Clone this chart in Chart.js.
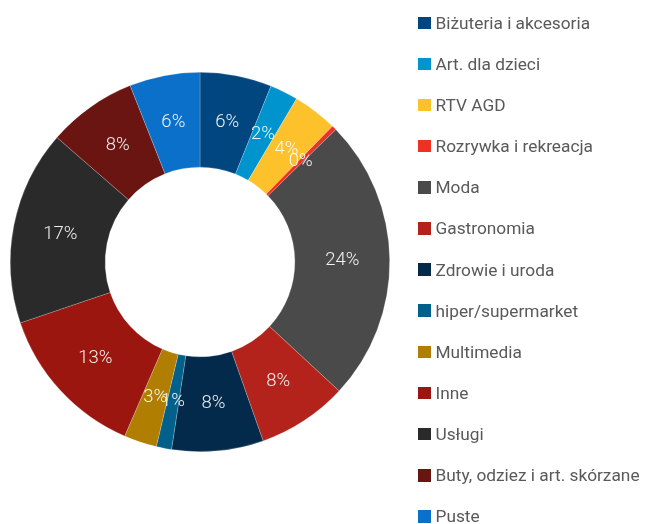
<!DOCTYPE html>
<html>
<head>
<meta charset="utf-8">
<script src="https://cdn.jsdelivr.net/npm/chart.js@4/dist/chart.umd.min.js"></script>
<style>
  html, body { margin: 0; padding: 0; background: #ffffff; }
  #wrap { position: relative; width: 646px; height: 524px; overflow: hidden; }
  #c { position: absolute; left: 0; top: 0; }
  #legend { position: absolute; left: 418px; top: 2.2px; margin: 0; padding: 0; list-style: none; }
  #legend li { display: flex; align-items: center; height: 41.15px; font-family: Roboto, "Open Sans", sans-serif; font-size: 17.3px; color: #595959; white-space: nowrap; }
  #legend span.box { display: inline-block; width: 12.5px; height: 12.5px; margin-right: 5px; flex: none; }
</style>
</head>
<body>
<div id="wrap">
  <canvas id="c" width="646" height="524"></canvas>
  <ul id="legend"></ul>
</div>
<script>
const categories = [
  "Biżuteria i akcesoria",
  "Art. dla dzieci",
  "RTV AGD",
  "Rozrywka i rekreacja",
  "Moda",
  "Gastronomia",
  "Zdrowie i uroda",
  "hiper/supermarket",
  "Multimedia",
  "Inne",
  "Usługi",
  "Buty, odziez i art. skórzane",
  "Puste"
];
const shares = [6.1, 2.4, 3.8, 0.4, 24.2, 7.7, 7.8, 1.3, 2.8, 13.3, 16.6, 7.6, 6.0];
const colors = [
  "#02467f", "#0094cf", "#fdc22b", "#ee3124", "#4a4a4a", "#b3221b",
  "#042a4b", "#03608a", "#b07f02", "#9a160f", "#2a2a2a", "#6a1512", "#0a70c9"
];

const sliceLabels = {
  id: "sliceLabels",
  afterDatasetsDraw(chart) {
    const ctx = chart.ctx;
    const meta = chart.getDatasetMeta(0);
    ctx.save();
    ctx.font = "300 18.5px Roboto, 'Open Sans', sans-serif";
    ctx.fillStyle = "rgba(255,255,255,0.92)";
    ctx.textAlign = "center";
    ctx.textBaseline = "middle";
    meta.data.forEach((arc, i) => {
      const p = arc.getCenterPoint();
      ctx.fillText(Math.round(shares[i]) + "%", p.x, p.y);
    });
    ctx.restore();
  }
};

new Chart(document.getElementById("c"), {
  type: "doughnut",
  data: {
    labels: categories,
    datasets: [{
      data: shares,
      backgroundColor: colors,
      borderColor: "rgba(255,255,255,0.35)",
      borderWidth: 0.6
    }]
  },
  options: {
    responsive: false,
    animation: false,
    cutout: "50%",
    layout: { padding: { left: 10, right: 256, top: 72, bottom: 72 } },
    plugins: {
      legend: { display: false },
      tooltip: { enabled: false }
    }
  },
  plugins: [sliceLabels]
});

const legend = document.getElementById("legend");
categories.forEach((name, i) => {
  const li = document.createElement("li");
  const box = document.createElement("span");
  box.className = "box";
  box.style.background = colors[i];
  li.appendChild(box);
  li.appendChild(document.createTextNode(name));
  legend.appendChild(li);
});
</script>
</body>
</html>
